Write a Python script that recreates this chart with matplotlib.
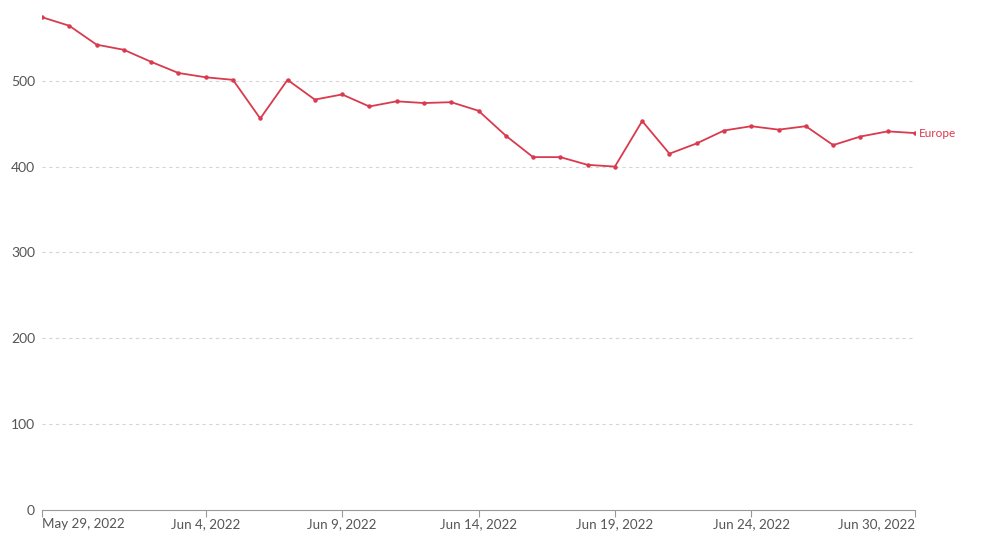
import pandas as pd
import matplotlib
matplotlib.use('Agg')
from matplotlib import pyplot as plt

plt.rcParams['font.family'] = ['Lato', 'DejaVu Sans']

# daily values, May 29 - Jun 30 2022
dates = pd.date_range('2022-05-29', '2022-06-30', freq='D')
europe = [574, 564, 542, 536, 522, 509, 504, 501, 456, 501, 478, 484,
          470, 476, 474, 475, 465, 436, 411, 411, 402, 400, 453, 415,
          427, 442, 447, 443, 447, 425, 435, 441, 439]
series_name = 'Europe'
yticks = [0, 100, 200, 300, 400, 500]
xticks = ['2022-05-29', '2022-06-04', '2022-06-09', '2022-06-14',
          '2022-06-19', '2022-06-24', '2022-06-30']

red = '#d93a4e'
gray = '#555555'

fig = plt.figure(figsize=(10, 5.42), dpi=100)
ax = fig.add_axes([0.042, 0.059, 0.873, 0.941])

ax.plot(dates, europe, color=red, linewidth=1.3, marker='o', markersize=2.2)
ax.text(dates[-1] + pd.Timedelta(hours=3), europe[-1], series_name,
        color=red, fontsize=8.5, va='center', ha='left')

ax.set_xlim(dates[0], dates[-1])
ax.set_ylim(0, 594)

# grid
ax.set_yticks(yticks)
ax.yaxis.grid(True, color='#d5d5d5', linestyle=(0, (3, 3)), linewidth=0.8)
ax.set_axisbelow(True)
for s in ['top', 'right', 'left']:
    ax.spines[s].set_visible(False)
ax.spines['bottom'].set_color('#999999')
ax.tick_params(axis='y', length=0, labelsize=10, labelcolor=gray, pad=5)

tick_dates = pd.to_datetime(xticks)
ax.set_xticks(tick_dates)
ax.set_xticklabels([d.strftime('%b %-d, %Y') for d in tick_dates])
ax.tick_params(axis='x', length=5, color='#999999', labelsize=9.6,
               labelcolor=gray, pad=1)
labels = ax.get_xticklabels()
labels[0].set_ha('left')
labels[-1].set_ha('right')

# hide gridline at 0
ax.get_ygridlines()[0].set_visible(False)

plt.savefig('out.png', dpi=100)
